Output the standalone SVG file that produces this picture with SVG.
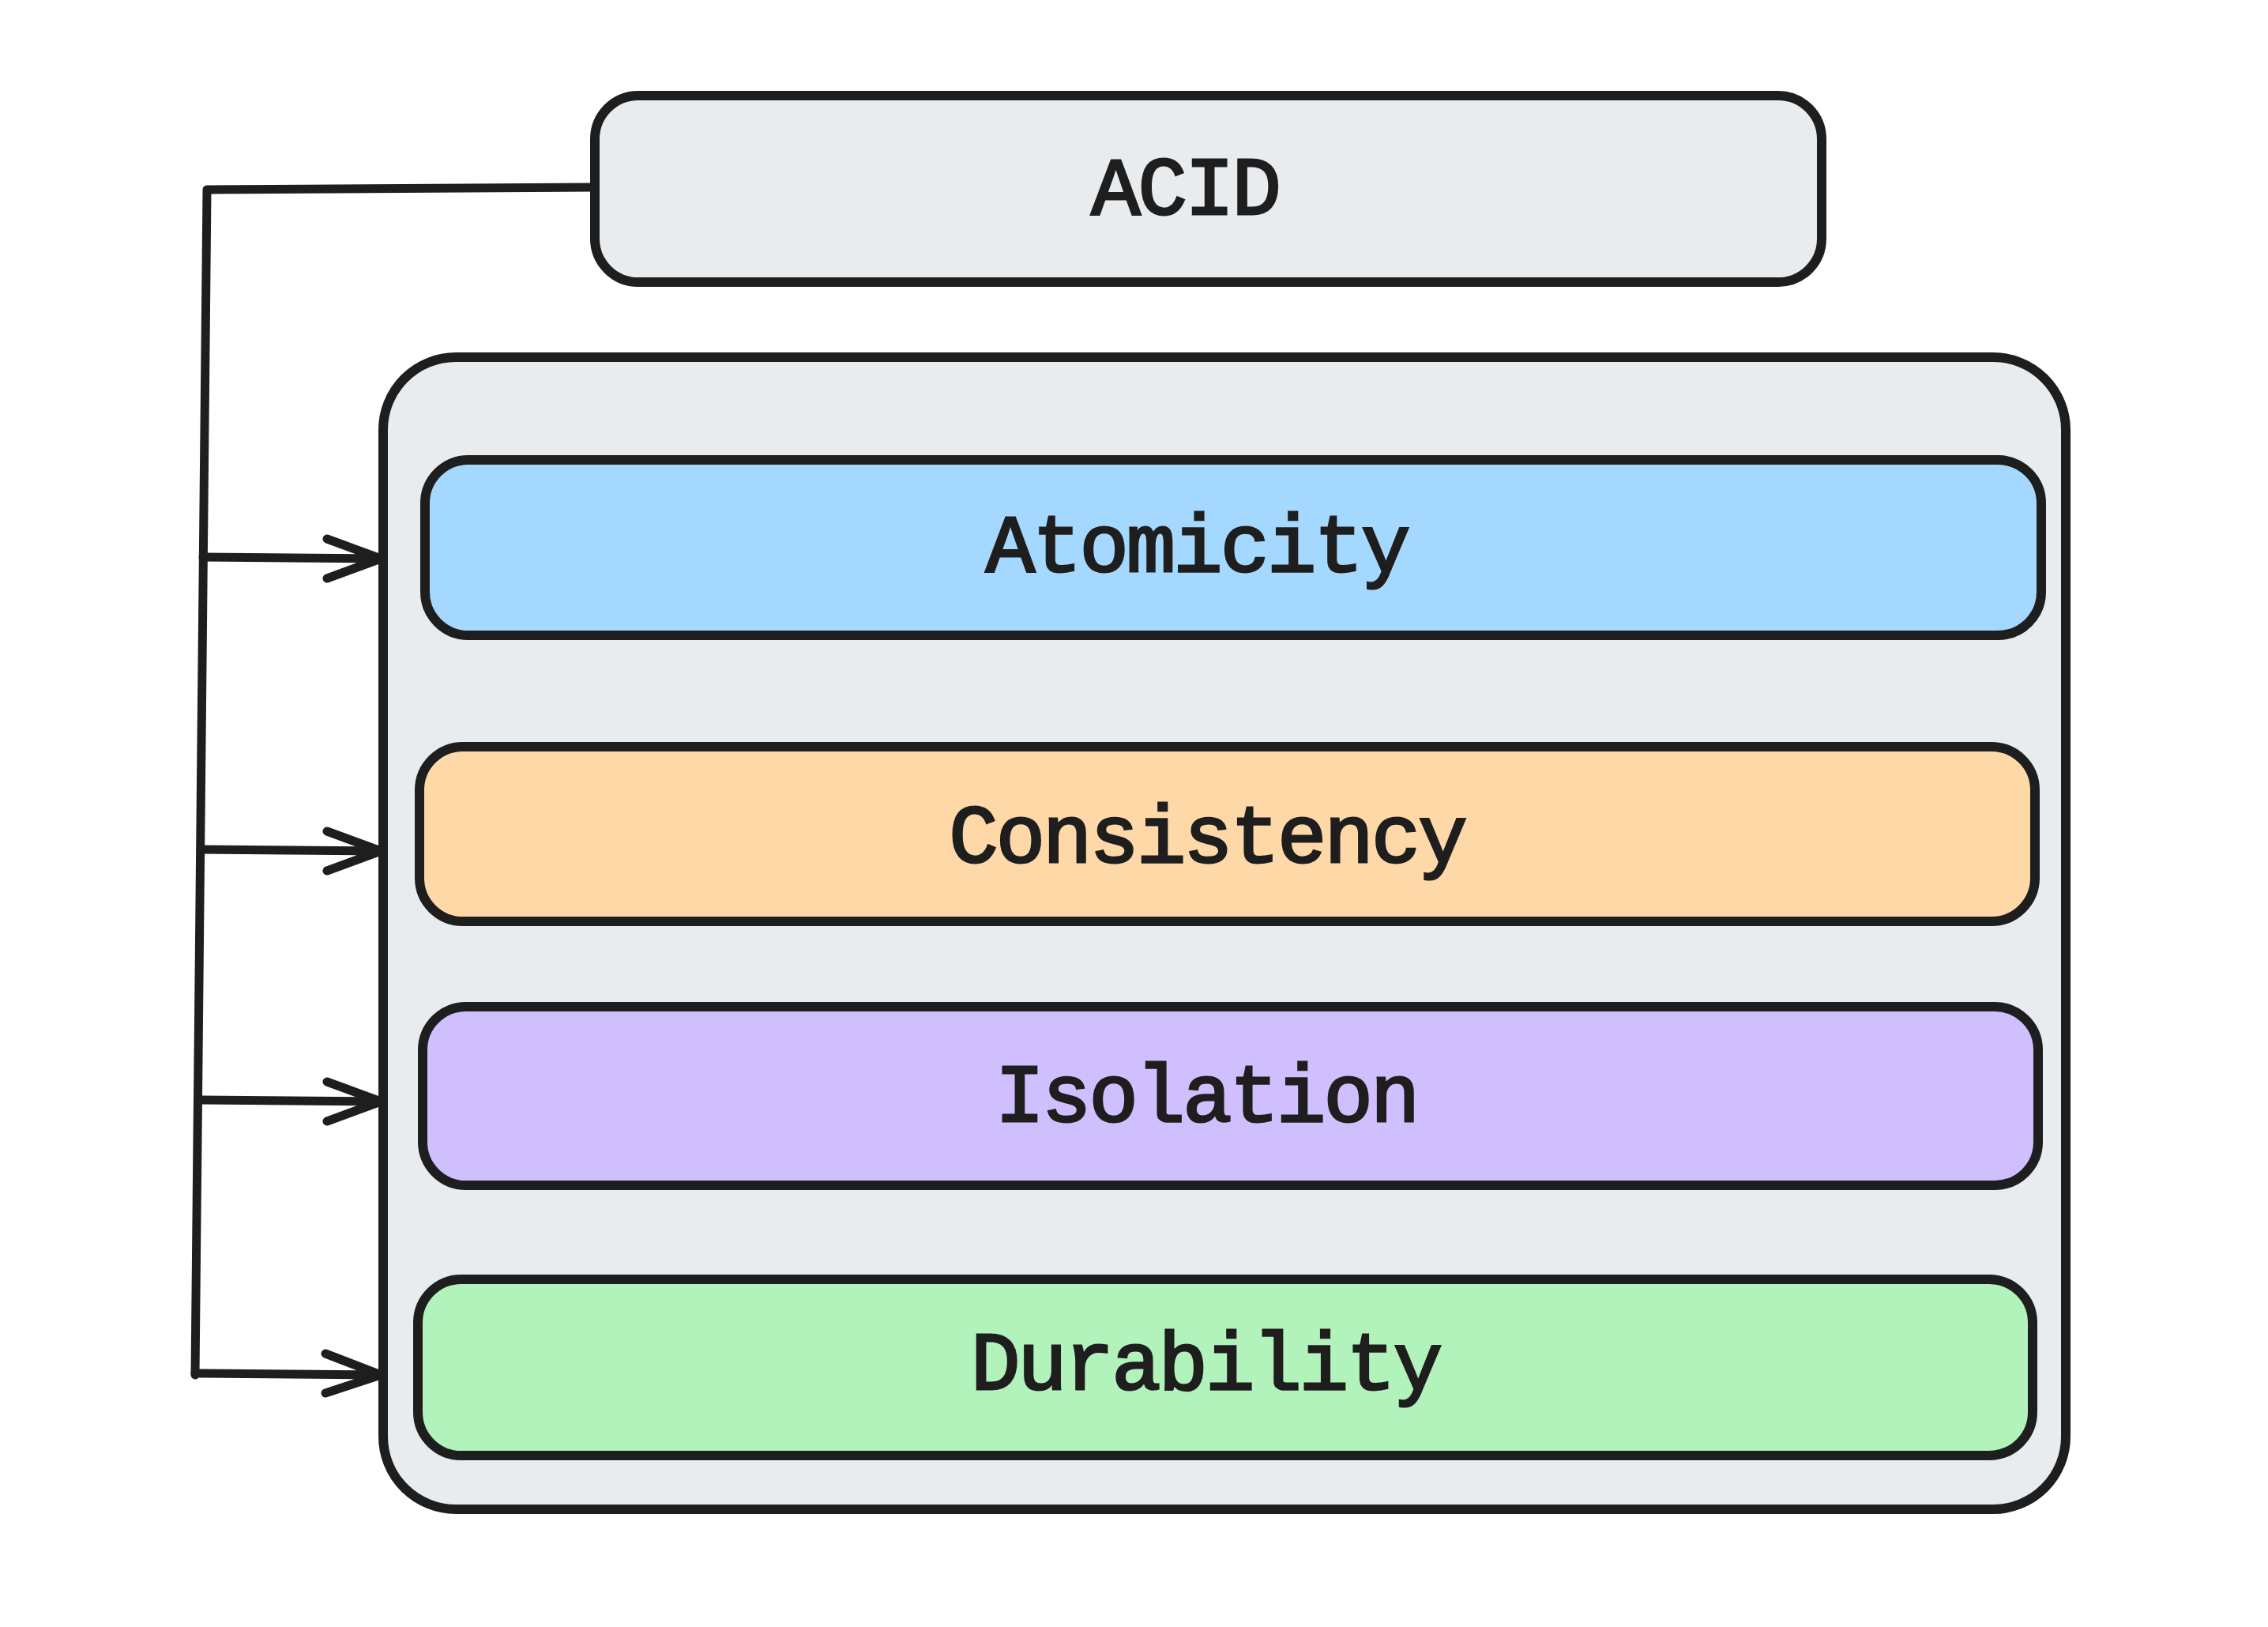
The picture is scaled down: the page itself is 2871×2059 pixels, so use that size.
<svg xmlns="http://www.w3.org/2000/svg" width="2871" height="2059" viewBox="0 0 2871 2059">
<style>
.box{stroke:#1e1e1e;stroke-width:12;stroke-linejoin:round}
.lbl{font-family:"Liberation Mono","DejaVu Sans Mono",monospace;font-size:104px;letter-spacing:-3px;fill:#1e1e1e;stroke:#1e1e1e;stroke-width:3;text-anchor:middle}
.conn{fill:none;stroke:#1e1e1e;stroke-width:11;stroke-linecap:round;stroke-linejoin:round}
</style>
<rect width="2871" height="2059" fill="#ffffff"/>
<g id="acid">
<rect class="box" x="753" y="121" width="1553" height="236" rx="55" fill="#e9ecef"/>
<text class="lbl" x="1500" y="271">ACID</text>
</g>
<g id="container">
<rect class="box" x="485" y="452" width="2130" height="1458" rx="92" fill="#e9ecef"/>
</g>
<g id="atomicity">
<rect class="box" x="538" y="582" width="2046" height="222" rx="55" fill="#a5d8ff"/>
<text class="lbl" x="1515" y="723">Atomicity</text>
</g>
<g id="consistency">
<rect class="box" x="531" y="945" width="2045" height="221" rx="55" fill="#ffd8a8"/>
<text class="lbl" x="1528" y="1091">Consistency</text>
</g>
<g id="isolation">
<rect class="box" x="535" y="1274" width="2045" height="226" rx="55" fill="#d0bfff"/>
<text class="lbl" x="1527" y="1419">Isolation</text>
</g>
<g id="durability">
<rect class="box" x="529" y="1619" width="2044" height="223" rx="55" fill="#b2f2bb"/>
<text class="lbl" x="1526" y="1758">Durability</text>
</g>
<g id="connectors">
<path class="conn" d="M753 237 L262 240 L247 1740"/>
<path class="conn" d="M257 705 L482 707 M414 682 L482 707 L414 732"/>
<path class="conn" d="M254 1075 L482 1077 M414 1052 L482 1077 L414 1102"/>
<path class="conn" d="M251 1392 L482 1394 M414 1369 L482 1394 L414 1419"/>
<path class="conn" d="M247 1738 L482 1740 M412 1713 L482 1740 L412 1763"/>
</g>
</svg>
